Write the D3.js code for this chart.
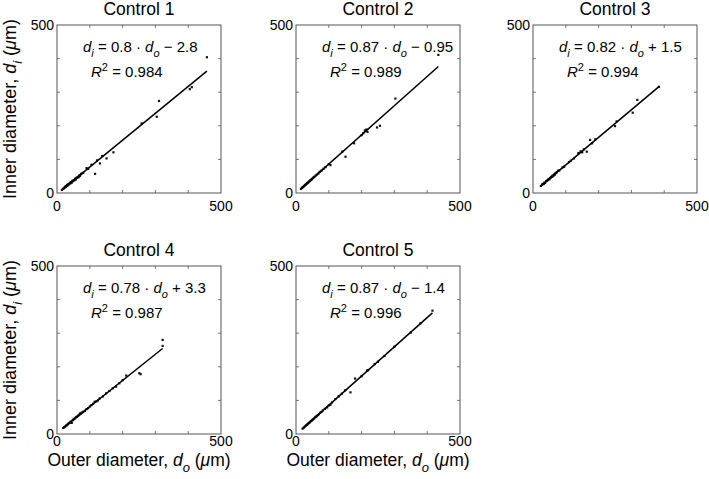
<!DOCTYPE html>
<html>
<head>
<meta charset="utf-8">
<script src="https://cdn.jsdelivr.net/npm/d3@7"></script>
<style>
  body { margin: 0; background: #fff; }
  svg { font-family: "Liberation Sans", Arial, Helvetica, sans-serif; }
</style>
</head>
<body>
<svg id="chart" width="709" height="479"></svg>
<script>
// Panel titles and fit results
var titles = ["Control 1", "Control 2", "Control 3", "Control 4", "Control 5"];
var slopes = ["0.8", "0.87", "0.82", "0.78", "0.87"];
var intercepts = [-2.8, -0.95, 1.5, 3.3, -1.4];
var interceptLabels = ["2.8", "0.95", "1.5", "3.3", "1.4"];
var rSquared = ["0.984", "0.989", "0.994", "0.987", "0.996"];
var tickLabels = [0, 500];

// Outer / inner diameters (um) per control
var outer1 = [15, 18, 20, 22, 24, 25, 27, 28, 30, 31, 33, 34, 35, 36, 38, 40, 41, 42, 44, 45, 47, 48, 50, 52, 53, 55, 57, 58, 60, 62, 64, 66, 68, 70, 73, 75, 80, 90, 95, 105, 116, 122, 131, 138, 151, 172, 258, 304, 311, 405, 411, 457];
var inner1 = [9, 12, 13, 15, 17, 19, 18, 21, 21, 24, 23, 25, 26, 27, 27, 30, 29, 32, 33, 31, 36, 35, 37, 39, 38, 42, 40, 44, 45, 46, 48, 47, 52, 51, 56, 58, 60, 74, 72, 84, 57, 97, 88, 110, 103, 121, 207, 227, 274, 309, 315, 404];
var outer2 = [15, 18, 20, 22, 24, 26, 28, 30, 32, 34, 36, 38, 40, 42, 44, 46, 48, 50, 53, 56, 60, 64, 68, 72, 78, 84, 90, 100, 105, 141, 151, 177, 200, 205, 210, 212, 215, 218, 247, 256, 303, 434];
var inner2 = [12, 15, 17, 18, 20, 22, 24, 25, 27, 29, 31, 32, 34, 36, 38, 39, 41, 43, 46, 48, 52, 55, 58, 63, 67, 72, 77, 86, 83, 123, 108, 148, 172, 178, 186, 185, 189, 182, 195, 200, 281, 411];
var outer3 = [24, 28, 30, 33, 35, 37, 40, 42, 44, 46, 48, 50, 52, 54, 56, 58, 60, 62, 64, 66, 68, 70, 73, 76, 80, 90, 95, 110, 115, 125, 138, 140, 145, 150, 155, 164, 174, 180, 190, 250, 255, 304, 318, 384];
var inner3 = [21, 25, 27, 27, 31, 30, 35, 36, 38, 39, 42, 41, 44, 46, 48, 49, 52, 50, 55, 54, 58, 60, 62, 66, 67, 76, 78, 92, 96, 103, 118, 119, 124, 121, 130, 123, 158, 148, 160, 199, 213, 239, 277, 316];
var outer4 = [19, 22, 25, 28, 30, 32, 35, 38, 40, 42, 45, 48, 50, 52, 55, 58, 60, 63, 65, 68, 70, 72, 75, 78, 80, 85, 90, 95, 100, 105, 110, 115, 120, 125, 130, 140, 150, 160, 170, 180, 190, 200, 211, 251, 255, 322, 322];
var inner4 = [18, 20, 22, 25, 26, 28, 31, 33, 34, 37, 33, 41, 43, 45, 47, 50, 51, 53, 55, 57, 61, 60, 63, 65, 66, 69, 74, 77, 82, 86, 90, 96, 97, 100, 106, 112, 121, 128, 136, 141, 151, 160, 174, 181, 178, 262, 280];
var outer5 = [20, 24, 27, 30, 33, 35, 38, 40, 42, 45, 48, 50, 52, 55, 58, 60, 63, 66, 70, 74, 78, 82, 88, 95, 100, 105, 110, 120, 130, 140, 150, 166, 180, 200, 217, 220, 240, 250, 270, 300, 350, 380, 416];
var inner5 = [16, 19, 22, 25, 27, 29, 32, 33, 35, 38, 40, 42, 44, 46, 49, 51, 53, 56, 59, 63, 66, 70, 75, 79, 85, 87, 94, 104, 112, 120, 130, 124, 165, 172, 189, 190, 208, 215, 232, 260, 302, 330, 367];

var outers = [outer1, outer2, outer3, outer4, outer5];
var inners = [inner1, inner2, inner3, inner4, inner5];

var svg = d3.select("#chart");

// Plot box positions [left, top] - width and height are shared
var boxes = [[57, 25], [296, 25], [533, 25], [57, 266], [296, 266]];
var boxW = 164, boxH = 168;
var tickLen = 3;

// Adds "d" with an italic subscript, returns a tspan for the rest
function symbolText(sel, sub, size, subSize) {
    sel.append("tspan").style("font-style", "italic").text("d");
    sel.append("tspan").attr("dy", size * 0.33).style("font-size", subSize + "px")
        .style("font-style", "italic").text(sub);
    return sel.append("tspan").attr("dy", -size * 0.33);
}

titles.forEach(function (title, k) {
    var left = boxes[k][0], top = boxes[k][1];
    var bottomRow = top > 200;
    var x = d3.scaleLinear().domain([0, 500]).range([left, left + boxW]);
    var y = d3.scaleLinear().domain([0, 500]).range([top + boxH, top]);
    var g = svg.append("g");

    // Title
    g.append("text")
        .attr("x", left + boxW / 2)
        .attr("y", top - 10)
        .attr("text-anchor", "middle")
        .style("font-size", "17.5px")
        .text(title);

    // Inward ticks on all four sides (MATLAB style box)
    var ticks = [100, 200, 300, 400];
    ticks.forEach(function (t) {
        g.append("line").attr("x1", x(t)).attr("x2", x(t)).attr("y1", y(0)).attr("y2", y(0) - tickLen);
        g.append("line").attr("x1", x(t)).attr("x2", x(t)).attr("y1", y(500)).attr("y2", y(500) + tickLen);
        g.append("line").attr("y1", y(t)).attr("y2", y(t)).attr("x1", x(0)).attr("x2", x(0) + tickLen);
        g.append("line").attr("y1", y(t)).attr("y2", y(t)).attr("x1", x(500)).attr("x2", x(500) - tickLen);
    });
    g.selectAll("line").attr("stroke", "#555").attr("stroke-width", 0.8);

    // Frame
    g.append("rect")
        .attr("x", x(0)).attr("y", y(500))
        .attr("width", x(500) - x(0)).attr("height", y(0) - y(500))
        .attr("fill", "none").attr("stroke", "#555").attr("stroke-width", 1);

    // Tick labels: 0 and 500 only (bottom row sits tighter above the x title)
    tickLabels.forEach(function (t) {
        g.append("text")
            .attr("x", x(t)).attr("y", y(0) + (bottomRow ? 12 : 18))
            .attr("text-anchor", "middle")
            .style("font-size", "14px")
            .text(t);
        g.append("text")
            .attr("x", x(0) - 3).attr("y", y(t) + 5)
            .attr("text-anchor", "end")
            .style("font-size", "14px")
            .text(t);
    });

    // Data points
    var pts = outers[k].map(function (o, i) { return [o, inners[k][i]]; });
    g.selectAll(".pt").data(pts).enter()
        .append("rect")
        .attr("class", "pt")
        .attr("x", function (d) { return x(d[0]) - 1.1; })
        .attr("y", function (d) { return y(d[1]) - 1.1; })
        .attr("width", 2.2).attr("height", 2.2)
        .attr("fill", "#111");

    // Fit line across the data range
    var xr = d3.extent(outers[k]);
    var m = +slopes[k], b = intercepts[k];
    g.append("line")
        .attr("x1", x(xr[0])).attr("y1", y(m * xr[0] + b))
        .attr("x2", x(xr[1])).attr("y2", y(m * xr[1] + b))
        .attr("stroke", "#000").attr("stroke-width", 1.5);

    // Equation text
    var eq = g.append("text")
        .attr("x", left + 26).attr("y", top + 27)
        .style("font-size", "15px");
    symbolText(eq, "i", 15, 11).text(" = " + slopes[k] + " \u00B7 ");
    symbolText(eq, "o", 15, 11).text((b < 0 ? " \u2212 " : " + ") + interceptLabels[k]);

    var r2 = g.append("text")
        .attr("x", left + 34).attr("y", top + 52)
        .style("font-size", "15px");
    r2.append("tspan").style("font-style", "italic").text("R");
    r2.append("tspan").attr("dy", -6).style("font-size", "11px").text("2");
    r2.append("tspan").attr("dy", 6).text(" = " + rSquared[k]);

    // Axis labels on the outer panels
    if (left < 100) {
        var yl = g.append("text")
            .attr("transform", "translate(" + (left - 41) + "," + (top + boxH / 2) + ") rotate(-90)")
            .attr("text-anchor", "middle")
            .style("font-size", "18px");
        yl.append("tspan").text("Inner diameter, ");
        symbolText(yl, "i", 18, 13).text(" (");
        yl.append("tspan").style("font-style", "italic").text("\u03BC");
        yl.append("tspan").text("m)");
    }
    if (bottomRow) {
        var xl = g.append("text")
            .attr("x", left + boxW / 2).attr("y", top + boxH + 32)
            .attr("text-anchor", "middle")
            .style("font-size", "17.5px");
        xl.append("tspan").text("Outer diameter, ");
        symbolText(xl, "o", 17.5, 13).text(" (");
        xl.append("tspan").style("font-style", "italic").text("\u03BC");
        xl.append("tspan").text("m)");
    }
});
</script>
</body>
</html>
